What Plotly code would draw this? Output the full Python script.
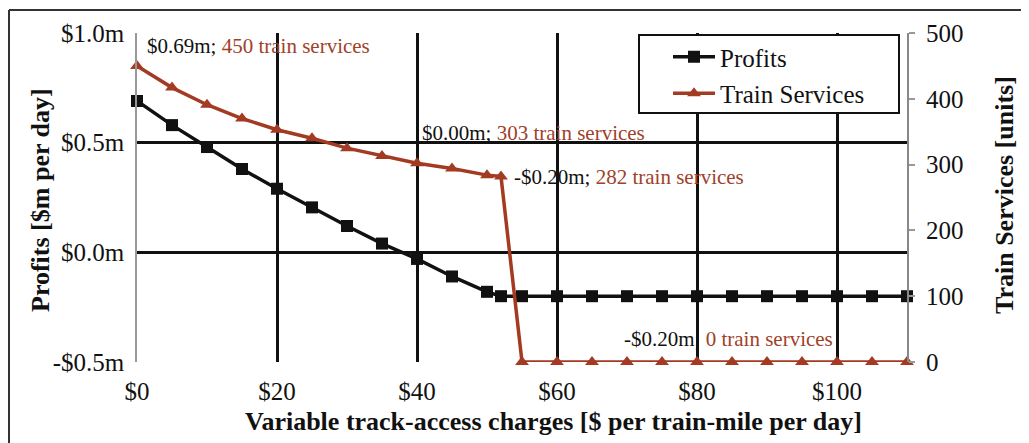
import plotly.graph_objects as go

charges = [0, 5, 10, 15, 20, 25, 30, 35, 40, 45, 50, 52, 55, 60, 65, 70, 75, 80, 85, 90, 95, 100, 105, 110]
profits = [0.69, 0.58, 0.48, 0.38, 0.29, 0.205, 0.12, 0.04, -0.03, -0.11, -0.18, -0.20, -0.20,
           -0.20, -0.20, -0.20, -0.20, -0.20, -0.20, -0.20, -0.20, -0.20, -0.20, -0.20]
services = [450, 417, 391, 370, 353, 340, 325, 313, 302, 294, 284, 282, 0,
            0, 0, 0, 0, 0, 0, 0, 0, 0, 0, 0]

x_ticks = [0, 20, 40, 60, 80, 100]
x_tick_labels = ["$0", "$20", "$40", "$60", "$80", "$100"]
y_ticks = [-0.5, 0.0, 0.5, 1.0]
y_tick_labels = ["-$0.5m", "$0.0m", "$0.5m", "$1.0m"]
y2_ticks = [0, 100, 200, 300, 400, 500]

BROWN = "#A33A22"
TXT_BROWN = "#A0412A"
FONT = "Liberation Serif"

# page pixel -> paper helpers (plot area: x 137..907, y 33..362 in page pixels)
def px(v):
    return (v - 137) / 770

def py(v):
    return (362 - v) / 329

fig = go.Figure()
fig.add_trace(go.Scatter(x=charges, y=profits, name="Profits", mode="lines+markers",
                         legendgroup="a", cliponaxis=False,
                         line=dict(color="#111111", width=3.5),
                         marker=dict(symbol="square", size=12, color="#111111")))
fig.add_trace(go.Scatter(x=charges, y=services, name="Train Services", mode="lines+markers",
                         yaxis="y2", legendgroup="b", cliponaxis=False,
                         line=dict(color=BROWN, width=3.5),
                         marker=dict(symbol="triangle-up", size=12, color=BROWN)))

def lab(p, s):
    return f"{p}; <span style='color:{TXT_BROWN}'>{s} train services</span>"

annots = [
    dict(x=1.2, y=0.94, text=lab("$0.69m", 450)),
    dict(x=40.4, y=0.545, text=lab("$0.00m", 303)),
    dict(x=53.6, y=0.345, text=lab("-$0.20m", 282)),
    dict(x=69.3, y=-0.395, text=lab("-$0.20m", 0)),
]
for a in annots:
    fig.add_annotation(x=a["x"], y=a["y"], xref="x", yref="y", text=a["text"],
                       showarrow=False, xanchor="left", yanchor="middle",
                       font=dict(family=FONT, size=21, color="#111111"))

# axis titles
fig.add_annotation(x=px(553), y=py(421), xref="paper", yref="paper",
                   text="<b>Variable track-access charges [$ per train-mile per day]</b>",
                   showarrow=False, xanchor="center", yanchor="middle",
                   font=dict(family=FONT, size=26, color="#111111"))
fig.add_annotation(x=px(40), y=py(200), xref="paper", yref="paper",
                   text="<b>Profits [$m per day]</b>", textangle=-90,
                   showarrow=False, xanchor="center", yanchor="middle",
                   font=dict(family=FONT, size=26, color="#111111"))
fig.add_annotation(x=px(1004), y=py(195), xref="paper", yref="paper",
                   text="<b>Train Services [units]</b>", textangle=-90,
                   showarrow=False, xanchor="center", yanchor="middle",
                   font=dict(family=FONT, size=26, color="#111111"))

# outer frame (left and top edges)
fig.add_shape(type="line", xref="paper", yref="paper",
              x0=px(9), x1=px(9), y0=py(445), y1=py(10),
              line=dict(color="#333333", width=2))
fig.add_shape(type="line", xref="paper", yref="paper",
              x0=px(9), x1=px(1032), y0=py(10), y1=py(10),
              line=dict(color="#333333", width=2))
# legend frame
fig.add_shape(type="rect", xref="paper", yref="paper",
              x0=px(639), x1=px(899), y0=py(113), y1=py(35),
              fillcolor="white", line=dict(color="#111111", width=2), layer="above")

fig.update_layout(
    width=1021, height=435,
    margin=dict(l=129, r=122, t=25, b=81),
    paper_bgcolor="white", plot_bgcolor="white",
    font=dict(family=FONT, size=25, color="#111111"),
    showlegend=True,
    legend=dict(x=px(668), y=py(34), xanchor="left", yanchor="top",
                bgcolor="rgba(0,0,0,0)", borderwidth=0,
                font=dict(family=FONT, size=25, color="#111111"),
                tracegroupgap=1, itemwidth=42),
    xaxis=dict(range=[0, 110], tickvals=x_ticks, ticktext=x_tick_labels,
               showgrid=False, zeroline=False, showline=False,
               ticks="", ticklabelstandoff=12,
               minor=dict(tickvals=[20, 40, 60, 80, 100], showgrid=True,
                          gridcolor="#111111", gridwidth=2.5, ticks="")),
    yaxis=dict(range=[-0.5, 1.0], tickvals=y_ticks, ticktext=y_tick_labels,
               showgrid=True, gridcolor="#111111", gridwidth=2.5, zeroline=False,
               showline=True, linecolor="#999999", linewidth=1.5, ticks="",
               ticklabelstandoff=6),
    yaxis2=dict(range=[0, 500], tickvals=y2_ticks, overlaying="y", side="right",
                showgrid=False, zeroline=False, showline=True, linecolor="#888888",
                linewidth=2, ticks="outside", ticklen=6, tickcolor="#999999",
                tickwidth=1.5, ticklabelstandoff=6),
)

fig.write_html("out.html")
